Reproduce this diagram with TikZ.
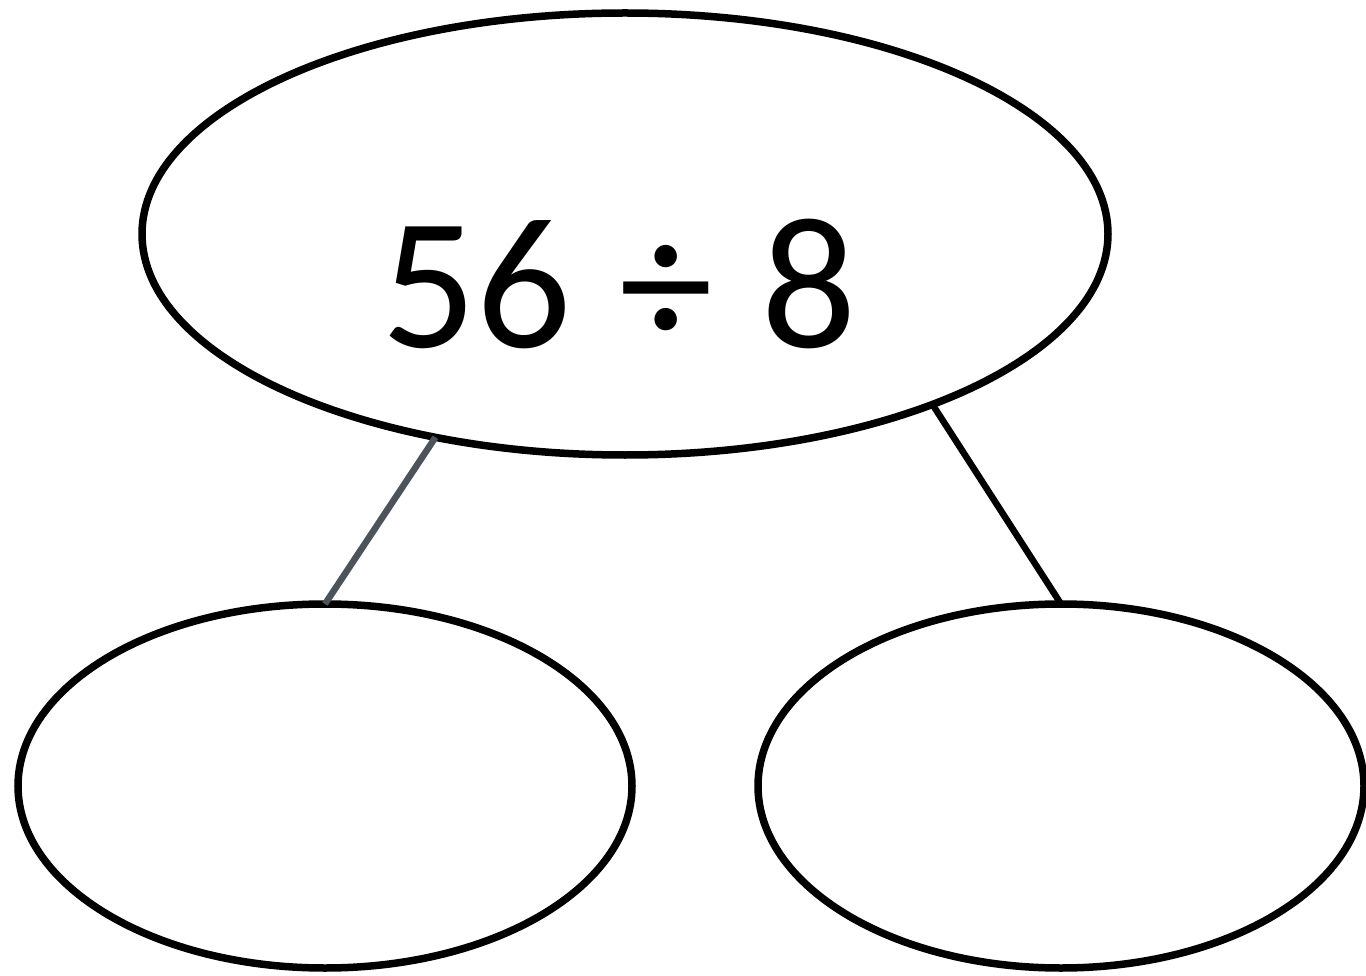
\documentclass[tikz,border=0pt]{standalone}
\usepackage{fontspec}
\setmainfont{Carlito}
\usetikzlibrary{shapes.geometric}
\definecolor{linegray}{HTML}{4D535B}
\begin{document}
\begin{tikzpicture}[x=1pt,y=-1pt,
  oval/.style={ellipse,draw=black,line width=7.5pt,inner sep=0pt,outer sep=0pt},
  conn/.style={line width=6.5pt}]
\useasboundingbox (0,0) rectangle (1366,976);
\node[oval,minimum width=966pt,minimum height=442pt] (top) at (625,234) {};
\node[oval,minimum width=614pt,minimum height=364pt] (bl) at (325,786) {};
\node[oval,minimum width=606pt,minimum height=364pt] (br) at (1061,786) {};
\node[anchor=base,inner sep=0pt,font=\fontsize{188}{188}\selectfont] (txt) at (619,348) {56\hspace{0.03em} ÷\hspace{0.03em} 8};
\draw[conn,draw=linegray] (top.-133) -- (bl.north);
\draw[conn] (top.-29) -- (br.north);
\end{tikzpicture}
\end{document}
